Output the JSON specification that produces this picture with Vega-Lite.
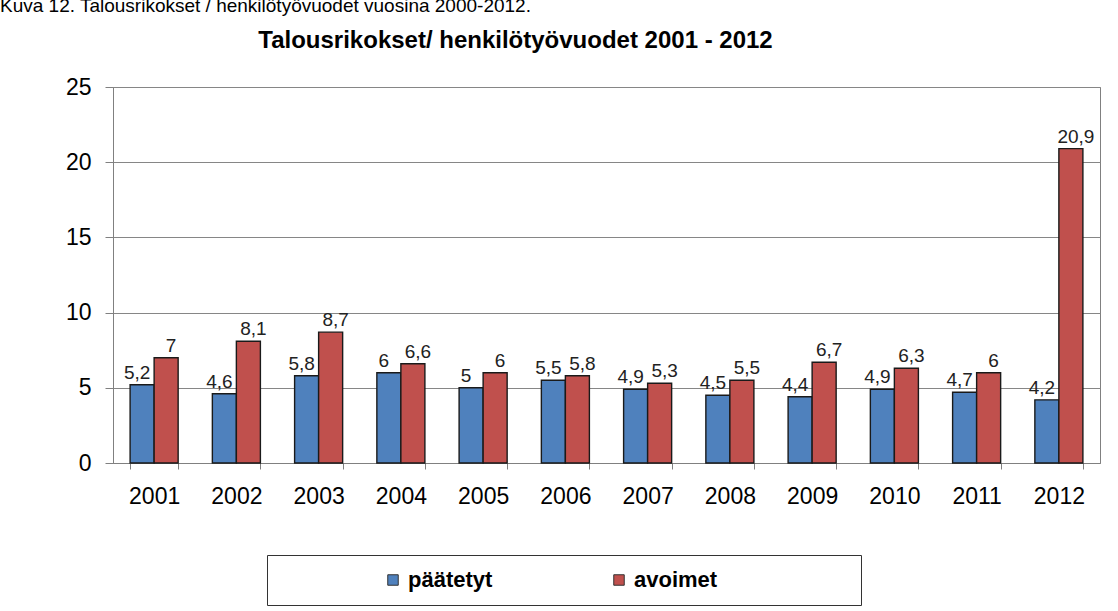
{
  "$schema": "https://vega.github.io/schema/vega-lite/v6.json",
  "width": 987,
  "height": 376,
  "autosize": {"type": "none"},
  "padding": {"left": 113, "top": 87, "right": 18, "bottom": 148},
  "background": "white",
  "title": {
    "text": "Kuva 12. Talousrikokset / henkilötyövuodet vuosina 2000-2012.",
    "anchor": "start",
    "frame": "group",
    "dx": -113,
    "offset": 12,
    "font": "Liberation Sans",
    "fontSize": 19,
    "fontWeight": "normal",
    "color": "#000000"
  },
  "config": {
    "locale": {"number": {"decimal": ",", "thousands": " ", "grouping": [3], "currency": ["", " €"]}},
    "view": {"stroke": "#808080", "strokeWidth": 1},
    "font": "Liberation Sans"
  },
  "data": {
    "values": [
      {"year": "2001", "series": "päätetyt", "value": 5.2},
      {"year": "2001", "series": "avoimet", "value": 7},
      {"year": "2002", "series": "päätetyt", "value": 4.6},
      {"year": "2002", "series": "avoimet", "value": 8.1},
      {"year": "2003", "series": "päätetyt", "value": 5.8},
      {"year": "2003", "series": "avoimet", "value": 8.7},
      {"year": "2004", "series": "päätetyt", "value": 6},
      {"year": "2004", "series": "avoimet", "value": 6.6},
      {"year": "2005", "series": "päätetyt", "value": 5},
      {"year": "2005", "series": "avoimet", "value": 6},
      {"year": "2006", "series": "päätetyt", "value": 5.5},
      {"year": "2006", "series": "avoimet", "value": 5.8},
      {"year": "2007", "series": "päätetyt", "value": 4.9},
      {"year": "2007", "series": "avoimet", "value": 5.3},
      {"year": "2008", "series": "päätetyt", "value": 4.5},
      {"year": "2008", "series": "avoimet", "value": 5.5},
      {"year": "2009", "series": "päätetyt", "value": 4.4},
      {"year": "2009", "series": "avoimet", "value": 6.7},
      {"year": "2010", "series": "päätetyt", "value": 4.9},
      {"year": "2010", "series": "avoimet", "value": 6.3},
      {"year": "2011", "series": "päätetyt", "value": 4.7},
      {"year": "2011", "series": "avoimet", "value": 6},
      {"year": "2012", "series": "päätetyt", "value": 4.2},
      {"year": "2012", "series": "avoimet", "value": 20.9}
    ]
  },
  "layer": [
    {
      "mark": {"type": "bar", "stroke": "#1a1a1a", "strokeWidth": 1.4},
      "encoding": {
        "x": {
          "field": "year", "type": "nominal",
          "scale": {"paddingInner": 0.416, "paddingOuter": 0.208},
          "axis": {
            "orient": "bottom", "title": null, "labelAngle": 0,
            "labelFont": "Liberation Sans", "labelFontSize": 23, "labelColor": "#000000",
            "domainColor": "#808080", "tickColor": "#808080",
            "tickBand": "extent", "tickSize": 6, "labelPadding": 16
          }
        },
        "xOffset": {"field": "series", "type": "nominal", "scale": {"domain": ["päätetyt", "avoimet"]}},
        "y": {
          "field": "value", "type": "quantitative", "stack": null,
          "scale": {"domain": [0, 25], "nice": false},
          "axis": {
            "values": [0, 5, 10, 15, 20, 25], "title": null,
            "grid": true, "gridColor": "#868686",
            "domainColor": "#808080", "tickColor": "#808080", "tickSize": 8,
            "labelFont": "Liberation Sans", "labelFontSize": 23, "labelColor": "#000000", "labelPadding": 14
          }
        },
        "color": {
          "field": "series", "type": "nominal",
          "scale": {"domain": ["päätetyt", "avoimet"], "range": ["#4F81BD", "#C0504D"]},
          "legend": {
            "orient": "none", "legendX": 154, "legendY": 468,
            "direction": "horizontal",
            "title": "\u00a0", "titleOrient": "right", "titlePadding": 130,
            "titleFontSize": 18,
            "strokeColor": "#333333", "fillColor": "white", "padding": 14,
            "symbolType": "square", "symbolSize": 110,
            "symbolStrokeColor": "#333333", "symbolStrokeWidth": 1,
            "symbolOffset": 101,
            "labelFont": "Liberation Sans", "labelFontSize": 22, "labelFontWeight": "bold",
            "labelColor": "#000000", "labelOffset": 4, "columnPadding": 14
          }
        }
      }
    },
    {
      "transform": [{"filter": "datum.series == 'päätetyt'"}],
      "mark": {"type": "text", "baseline": "alphabetic", "dy": -6, "dx": -5, "fontSize": 19, "color": "#222222", "font": "Liberation Sans"},
      "encoding": {
        "x": {"field": "year", "type": "nominal", "axis": null},
        "xOffset": {"field": "series", "type": "nominal"},
        "y": {"field": "value", "type": "quantitative", "stack": null},
        "text": {"field": "value", "type": "quantitative", "format": ".1~f"}
      }
    },
    {
      "transform": [{"filter": "datum.series == 'avoimet'"}],
      "mark": {"type": "text", "baseline": "alphabetic", "dy": -6, "dx": 5, "fontSize": 19, "color": "#222222", "font": "Liberation Sans"},
      "encoding": {
        "x": {"field": "year", "type": "nominal", "axis": null},
        "xOffset": {"field": "series", "type": "nominal"},
        "y": {"field": "value", "type": "quantitative", "stack": null},
        "text": {"field": "value", "type": "quantitative", "format": ".1~f"}
      }
    },
    {
      "mark": {"type": "bar", "opacity": 0},
      "encoding": {
        "x": {
          "field": "year", "type": "nominal",
          "axis": {
            "orient": "top", "labels": false, "ticks": false, "domain": false, "grid": false,
            "title": "Talousrikokset/ henkilötyövuodet 2001 - 2012",
            "titleFont": "Liberation Sans", "titleFontSize": 24, "titleFontWeight": "bold",
            "titleColor": "#000000", "titleBaseline": "alphabetic", "titlePadding": 40,
            "titleX": 402, "titleAlign": "center", "titleAnchor": "middle"
          }
        },
        "xOffset": {"field": "series", "type": "nominal"},
        "y": {"field": "value", "type": "quantitative", "stack": null}
      }
    }
  ]
}
